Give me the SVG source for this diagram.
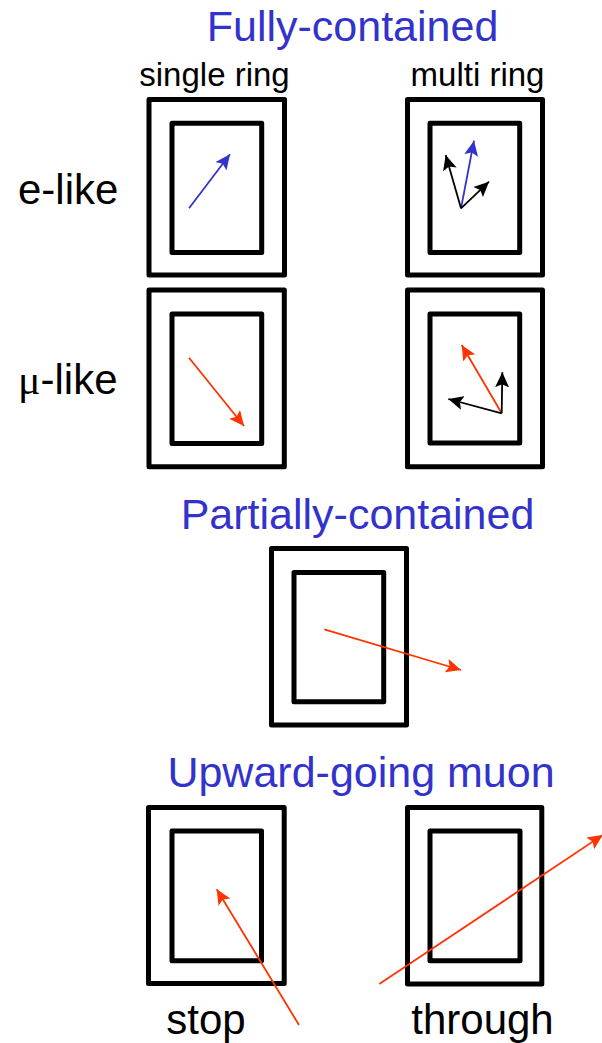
<svg xmlns="http://www.w3.org/2000/svg" width="602" height="1043" viewBox="0 0 602 1043">
  <style>
    .frame { fill: none; stroke: #000; stroke-width: 5; stroke-linejoin: round; }
    .title { font-family: "Liberation Sans", Arial, sans-serif; font-size: 43px; fill: #3333CC; text-anchor: middle; }
    .sub { font-family: "Liberation Sans", Arial, sans-serif; font-size: 33px; fill: #000; text-anchor: middle; }
    .lbl { font-family: "Liberation Sans", Arial, sans-serif; font-size: 42px; fill: #000; }
    .lblc { font-family: "Liberation Sans", Arial, sans-serif; font-size: 42px; fill: #000; text-anchor: middle; }
    .greek { font-family: "Liberation Serif", "Times New Roman", serif; }
    .blue { stroke: #3333CC; stroke-width: 1.8; fill: none; }
    .red { stroke: #FF3300; stroke-width: 1.8; fill: none; }
    .black { stroke: #000; stroke-width: 1.8; fill: none; }
  </style>
  <defs>
    <marker id="hBlue" markerUnits="userSpaceOnUse" markerWidth="16" markerHeight="14" refX="15" refY="7" orient="auto">
      <path d="M0,0 L15,7 L0,14 L3,7 Z" fill="#3333CC"/>
    </marker>
    <marker id="hRed" markerUnits="userSpaceOnUse" markerWidth="16" markerHeight="14" refX="15" refY="7" orient="auto">
      <path d="M0,0 L15,7 L0,14 L3,7 Z" fill="#FF3300"/>
    </marker>
    <marker id="hBlack" markerUnits="userSpaceOnUse" markerWidth="16" markerHeight="14" refX="15" refY="7" orient="auto">
      <path d="M0,0 L15,7 L0,14 L3,7 Z" fill="#000"/>
    </marker>
  </defs>

  <!-- headings -->
  <text class="title" x="352.5" y="41">Fully-contained</text>
  <text class="sub" x="214.5" y="86">single ring</text>
  <text class="sub" x="477.5" y="86">multi ring</text>
  <text class="lbl" x="18" y="204">e-like</text>
  <text class="lbl" x="18" y="394"><tspan class="greek">μ</tspan>-like</text>
  <text class="title" x="357.5" y="529">Partially-contained</text>
  <text class="title" x="361" y="787">Upward-going muon</text>
  <text class="lblc" x="206" y="1034">stop</text>
  <text class="lblc" x="482.5" y="1034">through</text>

  <!-- detector frames: outer and inner volumes -->
  <g id="fc-e-single">
    <rect class="frame" x="149" y="99.5" width="135.5" height="175.5"/>
    <rect class="frame" x="172" y="123.3" width="89.7" height="129.2"/>
  </g>
  <g id="fc-e-multi">
    <rect class="frame" x="407.5" y="99.5" width="135" height="175.5"/>
    <rect class="frame" x="430" y="123.3" width="89.7" height="129.2"/>
  </g>
  <g id="fc-mu-single">
    <rect class="frame" x="149" y="290" width="135.3" height="176.8"/>
    <rect class="frame" x="172" y="314" width="89.7" height="129.5"/>
  </g>
  <g id="fc-mu-multi">
    <rect class="frame" x="407.5" y="290" width="135" height="176.8"/>
    <rect class="frame" x="430" y="314" width="89.7" height="129"/>
  </g>
  <g id="pc">
    <rect class="frame" x="271.5" y="548.5" width="135" height="176.5"/>
    <rect class="frame" x="294" y="572.5" width="89.7" height="129.3"/>
  </g>
  <g id="upmu-stop">
    <rect class="frame" x="148.5" y="807.5" width="135.7" height="176"/>
    <rect class="frame" x="172" y="831" width="89.5" height="129.8"/>
  </g>
  <g id="upmu-through">
    <rect class="frame" x="407.5" y="807.5" width="134.3" height="176.5"/>
    <rect class="frame" x="430" y="831" width="90" height="129.8"/>
  </g>

  <!-- particle tracks -->
  <g id="tracks">
    <line class="blue" x1="189" y1="208.3" x2="230" y2="154.3" marker-end="url(#hBlue)"/>
    <line class="blue" x1="461" y1="208.3" x2="474" y2="140.7" marker-end="url(#hBlue)"/>
    <line class="black" x1="461" y1="208.3" x2="445.7" y2="155" marker-end="url(#hBlack)"/>
    <line class="black" x1="461" y1="208.3" x2="489" y2="181.7" marker-end="url(#hBlack)"/>
    <line class="red" x1="189" y1="357.7" x2="244" y2="426" marker-end="url(#hRed)"/>
    <line class="red" x1="501.7" y1="413.3" x2="461.7" y2="345" marker-end="url(#hRed)"/>
    <line class="black" x1="501.7" y1="413.3" x2="502.3" y2="372.3" marker-end="url(#hBlack)"/>
    <line class="black" x1="501.7" y1="413.3" x2="448.3" y2="399" marker-end="url(#hBlack)"/>
    <line class="red" x1="324.3" y1="629.3" x2="461" y2="670" marker-end="url(#hRed)"/>
    <line class="red" x1="299" y1="1025" x2="216.7" y2="889.3" marker-end="url(#hRed)"/>
    <line class="red" x1="379.3" y1="984" x2="602.7" y2="835" marker-end="url(#hRed)"/>
  </g>
</svg>
